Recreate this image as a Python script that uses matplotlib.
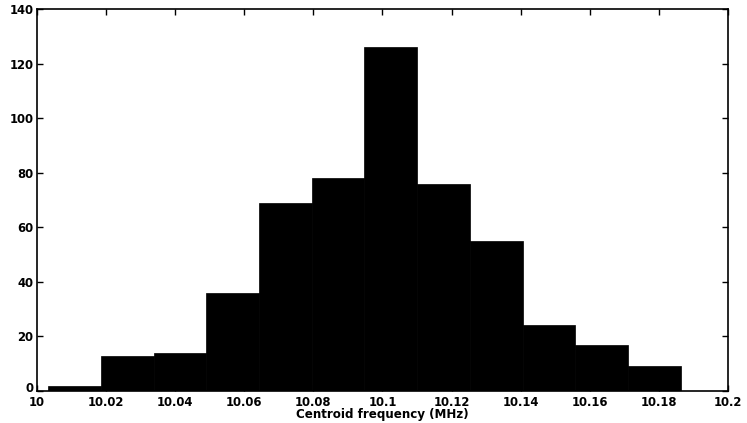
#!/usr/bin/env python3
"""Histogram of centroid frequencies"""
import numpy as np
import matplotlib
matplotlib.use("Agg")
import matplotlib.pyplot as plt
import matplotlib.transforms as mtransforms

# bin edges (MHz) and counts
bin_start = 10.0033
bin_width = 0.01525
counts = [2, 13, 14, 36, 69, 78, 126, 76, 55, 24, 17, 9]
x_ticks = [10, 10.02, 10.04, 10.06, 10.08, 10.1, 10.12, 10.14, 10.16, 10.18, 10.2]
x_labels = ["10", "10.02", "10.04", "10.06", "10.08", "10.1",
            "10.12", "10.14", "10.16", "10.18", "10.2"]
y_ticks = [0, 20, 40, 60, 80, 100, 120, 140]

plt.rcParams['font.family'] = ['DejaVu Sans']
plt.rcParams['font.weight'] = 'bold'

fig = plt.figure(figsize=(7.47, 4.23), dpi=100)
ax = fig.add_axes([0.0495, 0.0757, 0.925, 0.903])

lefts = bin_start + bin_width * np.arange(len(counts))
ax.bar(lefts, counts, width=bin_width, align='edge',
       color='black', edgecolor='black', linewidth=0.5)

ax.set_xlim(10, 10.2)
ax.set_ylim(0, 140)
ax.set_xticks(x_ticks)
ax.set_xticklabels(x_labels)
ax.set_yticks(y_ticks)
ax.tick_params(direction='in', top=True, right=True, length=4,
               labelsize=8.4, pad=2.5, width=1)
ax.tick_params(axis='x', pad=3.5)
for lab in ax.get_xticklabels() + ax.get_yticklabels():
    lab.set_fontweight('bold')
for sp in ax.spines.values():
    sp.set_linewidth(1.2)

# nudge the "0" label up a little so it clears the "10" below it
zero_lab = ax.get_yticklabels()[0]
zero_lab.set_transform(zero_lab.get_transform() +
                       mtransforms.ScaledTranslation(0, 4 / 100, fig.dpi_scale_trans))

ax.set_xlabel("Centroid frequency (MHz)", fontsize=8.6,
              fontweight='bold', labelpad=-0.5)

fig.savefig("out.png", dpi=100)
